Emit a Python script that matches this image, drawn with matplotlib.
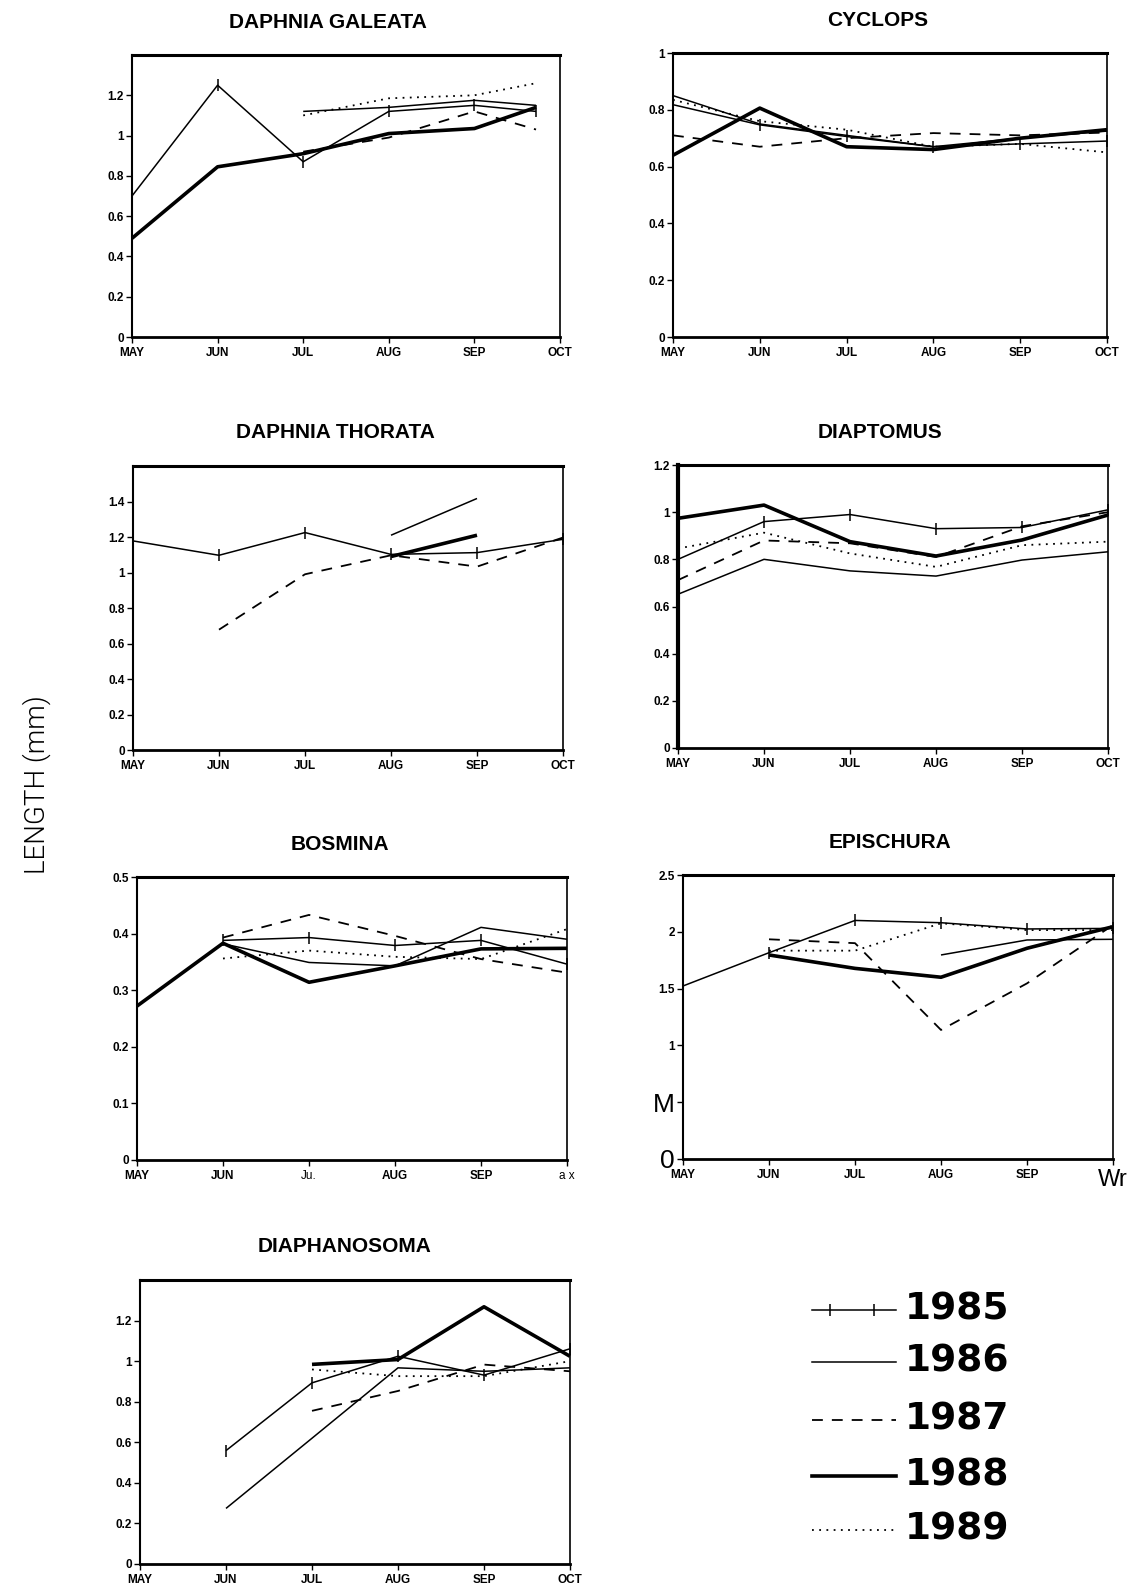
import numpy as np
import matplotlib
matplotlib.use("Agg")
import matplotlib.pyplot as plt
from matplotlib import font_manager as fm
from matplotlib.lines import Line2D

nan = np.nan
months = ["MAY", "JUN", "JUL", "AUG", "SEP", "OCT"]
years = ["1985", "1986", "1987", "1988", "1989"]

# ---- data (length, mm) ----
galeata_x = [0, 1, 2, 3, 4, 4.72]
galeata_1985 = [0.70, 1.25, 0.87, 1.12, 1.15, 1.12]
galeata_1986 = [nan, nan, 1.12, 1.14, 1.175, 1.15]
galeata_1987 = [nan, nan, 0.92, 0.99, 1.12, 1.03]
galeata_1988 = [0.49, 0.845, 0.91, 1.01, 1.035, 1.14]
galeata_1989 = [nan, nan, 1.10, 1.185, 1.20, 1.26]

cyclops_1985 = [0.818, 0.747, 0.706, 0.67, 0.68, 0.69]
cyclops_1986 = [0.85, 0.75, 0.71, 0.67, 0.70, 0.725]
cyclops_1987 = [0.71, 0.67, 0.70, 0.718, 0.71, 0.72]
cyclops_1988 = [0.64, 0.806, 0.67, 0.66, 0.70, 0.73]
cyclops_1989 = [0.835, 0.76, 0.73, 0.67, 0.68, 0.65]

thorata_1985 = [1.178, 1.097, 1.225, 1.102, 1.112, 1.187]
thorata_1986 = [nan, nan, nan, 1.21, 1.417, nan]
thorata_1987 = [nan, 0.678, 0.99, 1.097, 1.033, 1.197]
thorata_1988 = [nan, nan, nan, 1.09, 1.21, nan]
thorata_1989 = [nan, nan, nan, nan, nan, nan]

diaptomus_1985 = [0.80, 0.96, 0.99, 0.93, 0.935, 1.01]
diaptomus_1986 = [0.652, 0.80, 0.751, 0.729, 0.797, 0.832]
diaptomus_1987 = [0.712, 0.88, 0.868, 0.81, 0.94, 1.0]
diaptomus_1988 = [0.974, 1.03, 0.875, 0.814, 0.882, 0.988]
diaptomus_1989 = [0.846, 0.913, 0.825, 0.768, 0.86, 0.875]

bosmina_1985 = [nan, 0.388, 0.393, 0.379, 0.388, 0.346]
bosmina_1986 = [nan, 0.382, 0.349, 0.343, 0.411, 0.39]
bosmina_1987 = [nan, 0.393, 0.433, 0.396, 0.355, 0.331]
bosmina_1988 = [0.272, 0.383, 0.314, 0.343, 0.373, 0.374]
bosmina_1989 = [nan, 0.356, 0.37, 0.359, 0.355, 0.408]

epischura_1985 = [1.523, 1.816, 2.10, 2.08, 2.025, 2.03]
epischura_1986 = [nan, nan, nan, 1.796, 1.928, 1.934]
epischura_1987 = [nan, 1.934, 1.90, 1.136, 1.546, 2.06]
epischura_1988 = [nan, 1.796, 1.678, 1.60, 1.855, 2.045]
epischura_1989 = [nan, 1.834, 1.834, 2.075, 2.015, 2.015]

diaphan_1985 = [nan, 0.559, 0.893, 1.024, 0.931, 1.061]
diaphan_1986 = [nan, 0.274, 0.62, 0.967, 0.95, 0.967]
diaphan_1987 = [nan, nan, 0.755, 0.853, 0.983, 0.95]
diaphan_1988 = [nan, nan, 0.984, 1.008, 1.268, 1.024]
diaphan_1989 = [nan, nan, 0.959, 0.926, 0.926, 1.0]

# ---- fonts ----
avail = {f.name for f in fm.fontManager.ttflist}
narrow = "Liberation Sans Narrow" if "Liberation Sans Narrow" in avail else "Liberation Sans"
light_family = "Liberation Sans"
light_weight = "normal"
for fam in ["Roboto", "Open Sans", "Lato", "Inter"]:
    ws = [f.weight for f in fm.fontManager.ttflist if f.name == fam]
    ws = [w if isinstance(w, (int, float)) else 400 for w in ws]
    if 300 in ws:
        light_family = fam
        light_weight = 300
        break

styles = {
    "1985": dict(color="black", lw=1.1, ls="-", marker="|", ms=8, mew=1.1),
    "1986": dict(color="black", lw=1.1, ls="-"),
    "1987": dict(color="black", lw=1.3, ls=(0, (6, 5))),
    "1988": dict(color="black", lw=2.6, ls="-"),
    "1989": dict(color="black", lw=1.3, ls=(0, (1, 3))),
}

fig = plt.figure(figsize=(11.3, 15.87), dpi=100)
W, H = 1130, 1587


def make_ax(l, r, t, b):
    return fig.add_axes([l / W, 1 - b / H, (r - l) / W, (b - t) / H])


panels = [
    dict(name="DAPHNIA GALEATA", box=(132, 560, 55, 337), ylim=1.4, yt=[0, .2, .4, .6, .8, 1, 1.2],
         x=galeata_x, s=[galeata_1985, galeata_1986, galeata_1987, galeata_1988, galeata_1989], tx=328),
    dict(name="CYCLOPS", box=(673, 1107, 53, 337), ylim=1.0, yt=[0, .2, .4, .6, .8, 1],
         x=list(range(6)), s=[cyclops_1985, cyclops_1986, cyclops_1987, cyclops_1988, cyclops_1989], tx=878),
    dict(name="DAPHNIA THORATA", box=(133, 563, 466, 750), ylim=1.6, yt=[0, .2, .4, .6, .8, 1, 1.2, 1.4],
         x=list(range(6)), s=[thorata_1985, thorata_1986, thorata_1987, thorata_1988, thorata_1989], tx=335),
    dict(name="DIAPTOMUS", box=(678, 1108, 465, 748), ylim=1.2, yt=[0, .2, .4, .6, .8, 1, 1.2],
         x=list(range(6)), s=[diaptomus_1985, diaptomus_1986, diaptomus_1987, diaptomus_1988, diaptomus_1989], tx=880),
    dict(name="BOSMINA", box=(137, 567, 877, 1160), ylim=0.5, yt=[0, .1, .2, .3, .4, .5],
         x=list(range(6)), s=[bosmina_1985, bosmina_1986, bosmina_1987, bosmina_1988, bosmina_1989], tx=340),
    dict(name="EPISCHURA", box=(683, 1113, 875, 1159), ylim=2.5, yt=[0, .5, 1, 1.5, 2, 2.5],
         x=list(range(6)), s=[epischura_1985, epischura_1986, epischura_1987, epischura_1988, epischura_1989], tx=890),
    dict(name="DIAPHANOSOMA", box=(140, 570, 1280, 1564), ylim=1.4, yt=[0, .2, .4, .6, .8, 1, 1.2],
         x=list(range(6)), s=[diaphan_1985, diaphan_1986, diaphan_1987, diaphan_1988, diaphan_1989], tx=345),
]


def fmt(v):
    if abs(v - round(v)) < 1e-9:
        return str(int(round(v)))
    return ("%g" % v)


for i, p in enumerate(panels):
    l, r, t, b = p["box"]
    ax = make_ax(l, r, t, b)
    for yr, ys in zip(years, p["s"]):
        ax.plot(p["x"], ys, clip_on=False, solid_capstyle="butt", **styles[yr])
    ax.set_xlim(0, 5)
    ax.set_ylim(0, p["ylim"])
    ax.set_xticks(range(6))
    ax.set_yticks(p["yt"])
    xl = list(months)
    yl = [fmt(v) for v in p["yt"]]
    if p["name"] == "BOSMINA":
        xl = ["MAY", "JUN", "Ju.", "AUG", "SEP", "a x"]
    if p["name"] == "EPISCHURA":
        xl = ["MAY", "JUN", "JUL", "AUG", "SEP", "Wr"]
        yl = ["0", "M", "1", "1.5", "2", "2.5"]
    ax.set_xticklabels(xl, fontfamily=narrow, fontweight="bold", fontsize=8.5)
    ax.set_yticklabels(yl, fontfamily=narrow, fontweight="bold", fontsize=8.5)
    ax.tick_params(axis="both", direction="out", length=4, width=1, pad=2)
    ax.tick_params(axis="x", pad=3)
    if p["name"] == "BOSMINA":
        for k in (2, 5):
            ax.get_xticklabels()[k].set_fontweight("normal")
            ax.get_xticklabels()[k].set_fontfamily("Liberation Sans")
    if p["name"] == "EPISCHURA":
        for k in (0, 1):
            lab = ax.get_yticklabels()[k]
            lab.set_fontweight("normal"); lab.set_fontsize(19); lab.set_fontfamily(narrow)
        lab = ax.get_xticklabels()[5]
        lab.set_fontweight("normal"); lab.set_fontsize(17); lab.set_fontfamily(narrow)
    ax.spines["top"].set_linewidth(2.2)
    ax.spines["bottom"].set_linewidth(2.0)
    ax.spines["left"].set_linewidth(1.5)
    ax.spines["right"].set_linewidth(1.2)
    if p["name"] == "DIAPTOMUS":
        ax.spines["left"].set_linewidth(3.0)
    fig.text(p["tx"] / W, 1 - (t - 33) / H, p["name"], ha="center", va="center",
             fontfamily=narrow, fontweight="bold", fontsize=15)

# y label
fig.text(37 / W, 1 - 785 / H, "LENGTH (mm)", rotation=90, ha="center", va="center",
         fontfamily=light_family, fontweight=light_weight, fontsize=20, color="black")

# legend
leg_y = [1310, 1362, 1420, 1476, 1530]
for yr, yy in zip(years, leg_y):
    st = dict(styles[yr])
    x0, x1 = 812 / W, 896 / W
    yf = 1 - yy / H
    if yr == "1985":
        st["markevery"] = [1, 2]
        fig.add_artist(Line2D([x0, x0 + (x1 - x0) * 0.22, x0 + (x1 - x0) * 0.74, x1], [yf] * 4,
                              transform=fig.transFigure, **st))
    else:
        fig.add_artist(Line2D([x0, x1], [yf, yf], transform=fig.transFigure, **st))
    fig.text(905 / W, 1 - (yy - 1) / H, yr, ha="left", va="center",
             fontfamily="DejaVu Sans", fontweight="bold", fontsize=27)

fig.savefig("out.png", dpi=100)
